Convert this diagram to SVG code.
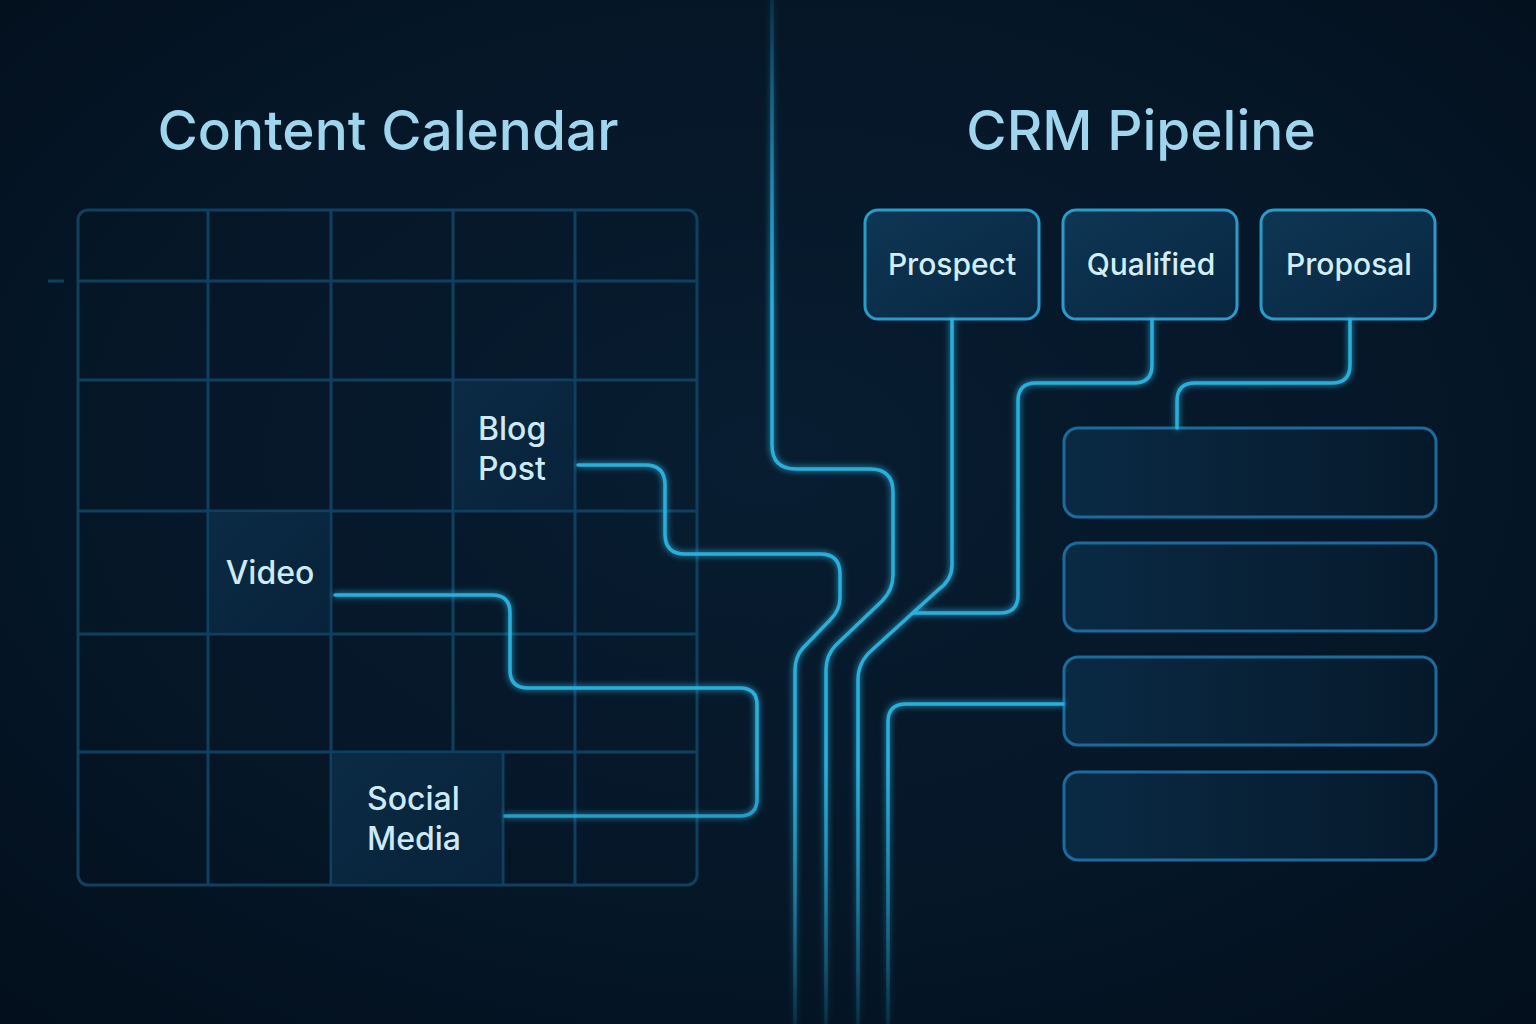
<svg xmlns="http://www.w3.org/2000/svg" width="1536" height="1024" viewBox="0 0 1536 1024">
<defs>
<radialGradient id="bg" cx="0.5" cy="0.45" r="0.75">
<stop offset="0" stop-color="#081d31"/>
<stop offset="0.6" stop-color="#051627"/>
<stop offset="1" stop-color="#030f1c"/>
</radialGradient>
<linearGradient id="wire" x1="0" y1="0" x2="0" y2="1024" gradientUnits="userSpaceOnUse">
<stop offset="0" stop-color="#2bb3e0" stop-opacity="0.12"/>
<stop offset="0.3" stop-color="#2bb3e0" stop-opacity="0.95"/>
<stop offset="0.75" stop-color="#2bb3e0" stop-opacity="0.95"/>
<stop offset="1" stop-color="#2bb3e0" stop-opacity="0.12"/>
</linearGradient>
<linearGradient id="boxfill" x1="0" y1="0" x2="1" y2="1">
<stop offset="0" stop-color="#0e3654"/>
<stop offset="1" stop-color="#082741"/>
</linearGradient>
<linearGradient id="barfill" x1="0" y1="0" x2="1" y2="0">
<stop offset="0" stop-color="#0a2a44"/>
<stop offset="1" stop-color="#06192b"/>
</linearGradient>
<linearGradient id="cellfill" x1="0" y1="0" x2="1" y2="1">
<stop offset="0" stop-color="#0b2b44"/>
<stop offset="1" stop-color="#08223a"/>
</linearGradient>
<filter id="glow" x="-20%" y="-20%" width="140%" height="140%">
<feGaussianBlur stdDeviation="3" result="b"/>
<feMerge><feMergeNode in="b"/><feMergeNode in="SourceGraphic"/></feMerge>
</filter>
</defs>
<style>
.title{font-family:Inter,"Open Sans","Liberation Sans",sans-serif;font-size:55px;font-weight:500;fill:#9fd6ee}
.cellt{font-family:Inter,"Open Sans","Liberation Sans",sans-serif;font-size:32px;font-weight:500;fill:#cdeaf6}
.boxt{font-family:Inter,"Open Sans","Liberation Sans",sans-serif;font-size:30px;font-weight:500;fill:#d4eef8;text-anchor:middle}
.grid{stroke:#104060;stroke-width:3;fill:none}
.box{fill:url(#boxfill);stroke:#2a9ccc;stroke-width:3}
.bar{fill:url(#barfill);stroke:#1b6c9c;stroke-width:3}
.wire{fill:none;stroke:url(#wire);stroke-width:3.5;stroke-linecap:round;stroke-linejoin:round}
</style>
<rect width="1536" height="1024" fill="url(#bg)"/>

<text class="title" x="388" y="150" text-anchor="middle">Content Calendar</text>
<text class="title" x="1141" y="150" text-anchor="middle" font-size="54">CRM Pipeline</text>

<g id="calendar">
<rect x="455" y="382" width="118" height="127" fill="url(#cellfill)"/>
<rect x="210" y="513" width="119" height="119" fill="url(#cellfill)"/>
<rect x="333" y="754" width="168" height="129" fill="url(#cellfill)"/>
<rect class="grid" x="78" y="210" width="619" height="675" rx="10"/>
<path class="grid" d="M208,210V885M331,210V885M453,210V752M575,210V885M503,752V885M78,281H697M78,380H697M78,511H697M78,634H697M78,752H697"/>
<line class="grid" x1="48" y1="281" x2="64" y2="281"/>
</g>
<g id="blog-post"><text class="cellt" x="478" y="440">Blog</text><text class="cellt" x="478" y="480">Post</text></g>
<g id="video"><text class="cellt" x="270" y="584" text-anchor="middle">Video</text></g>
<g id="social-media"><text class="cellt" x="367" y="810">Social</text><text class="cellt" x="367" y="850">Media</text></g>

<g id="prospect"><rect class="box" x="865" y="210" width="174" height="109" rx="13"/><text class="boxt" x="952" y="275">Prospect</text></g>
<g id="qualified"><rect class="box" x="1063" y="210" width="174" height="109" rx="13"/><text class="boxt" x="1151" y="275">Qualified</text></g>
<g id="proposal"><rect class="box" x="1261" y="210" width="174" height="109" rx="13"/><text class="boxt" x="1349" y="275">Proposal</text></g>

<g id="stage-1"><rect class="bar" x="1064" y="428" width="372" height="89" rx="14"/></g>
<g id="stage-2"><rect class="bar" x="1064" y="543" width="372" height="88" rx="14"/></g>
<g id="stage-3"><rect class="bar" x="1064" y="657" width="372" height="88" rx="14"/></g>
<g id="stage-4"><rect class="bar" x="1064" y="772" width="372" height="88" rx="14"/></g>

<g id="connectors" filter="url(#glow)">
<path class="wire" d="M772,0V445Q772,469 796,469H870Q893,469 893,492V575Q893,590 882,601L836,645Q826,655 826,670V1024"/>
<path class="wire" d="M578,465H645Q665,465 665,485V534Q665,554 685,554H820Q840,554 840,574V598Q840,610 830,620L803,648Q795,657 795,670V1024"/>
<path class="wire" d="M505,816H740Q757,816 757,799V705Q757,688 740,688H528Q510,688 510,670V613Q510,595 492,595H335"/>
<path class="wire" d="M952,320V565Q952,580 938,590L872,650Q858,662 858,680V1024"/>
<path class="wire" d="M1152,320V365Q1152,383 1134,383H1036Q1018,383 1018,401V595Q1018,613 1000,613H913"/>
<path class="wire" d="M1350,320V365Q1350,383 1332,383H1195Q1177,383 1177,401V428"/>
<path class="wire" d="M1063,704H906Q888,704 888,722V1024"/>
</g>
</svg>
